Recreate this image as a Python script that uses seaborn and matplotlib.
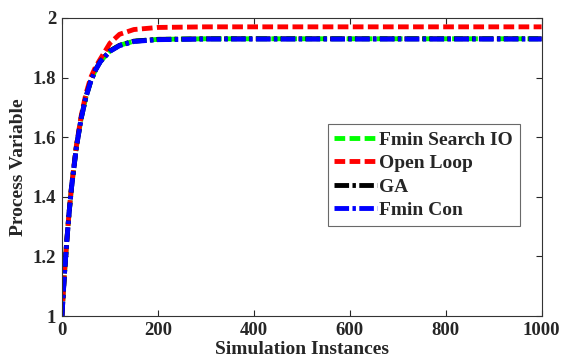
import pandas as pd
import seaborn as sns
import matplotlib.pyplot as plt

sns.set_style("ticks")
plt.rcParams['font.family'] = ['Liberation Serif', 'DejaVu Serif']
plt.rcParams['font.weight'] = 'bold'

# values
instances = [0, 5, 10, 15, 20, 30, 40, 50, 60, 70, 80, 100, 120, 150, 200, 300, 1000]
fmin_search = [1.0, 1.135, 1.249, 1.348, 1.432, 1.566, 1.663, 1.735, 1.788, 1.826, 1.854,
               1.889, 1.908, 1.922, 1.928, 1.93, 1.93]
open_loop = [1.0, 1.14, 1.25, 1.35, 1.435, 1.57, 1.67, 1.745, 1.80, 1.835, 1.862,
             1.915, 1.945, 1.961, 1.968, 1.97, 1.97]
ga = [1.0, 1.135, 1.249, 1.348, 1.432, 1.566, 1.663, 1.735, 1.788, 1.826, 1.854,
      1.889, 1.908, 1.922, 1.928, 1.93, 1.93]
fmin_con = [1.0, 1.134, 1.248, 1.347, 1.431, 1.565, 1.662, 1.734, 1.787, 1.825, 1.853,
            1.888, 1.907, 1.921, 1.927, 1.929, 1.929]

df = pd.DataFrame({'x': instances, 'fs': fmin_search, 'ol': open_loop,
                   'ga': ga, 'fc': fmin_con})

fig = plt.figure(figsize=(5.63, 3.58), dpi=100)
ax = fig.add_axes([0.110, 0.117, 0.852, 0.833])

dash = (0, (2.2, 0.9))
dashdot = (0, (3, 0.7, 0.7, 0.7))
sns.lineplot(data=df, x='x', y='fs', ax=ax, color='#00ff00', lw=3.5, linestyle=dash,
             label='Fmin Search IO')
sns.lineplot(data=df, x='x', y='ol', ax=ax, color='#ff0000', lw=3.5, linestyle=dash,
             label='Open Loop')
sns.lineplot(data=df, x='x', y='ga', ax=ax, color='black', lw=3.5, linestyle=dashdot,
             label='GA')
sns.lineplot(data=df, x='x', y='fc', ax=ax, color='#0000ff', lw=3.5, linestyle=dashdot,
             label='Fmin Con')

ax.set_xlim(0, 1000)
ax.set_ylim(1, 2)
ax.set_xticks([0, 200, 400, 600, 800, 1000])
ax.set_yticks([1, 1.2, 1.4, 1.6, 1.8, 2])
ax.set_yticklabels(['1', '1.2', '1.4', '1.6', '1.8', '2'])
ax.tick_params(direction='in', top=True, right=True, labelsize=13.5, length=4, width=0.8, pad=4)
for s in ax.spines.values():
    s.set_visible(True)
    s.set_linewidth(0.8)
    s.set_color('#333333')

ax.set_xlabel('Simulation Instances', fontsize=14, fontweight='bold', labelpad=1.5)
ax.set_ylabel('Process Variable', fontsize=14, fontweight='bold', labelpad=4)

leg = ax.legend(loc='center', bbox_to_anchor=(0.754, 0.473), handlelength=2.2,
                handletextpad=0.1, labelspacing=0.3, frameon=True, fancybox=False,
                borderpad=0.35, borderaxespad=0, prop={'weight': 'bold', 'size': 14})
leg.get_frame().set_edgecolor('#444444')
leg.get_frame().set_linewidth(0.8)

fig.savefig('out.png', dpi=100)
